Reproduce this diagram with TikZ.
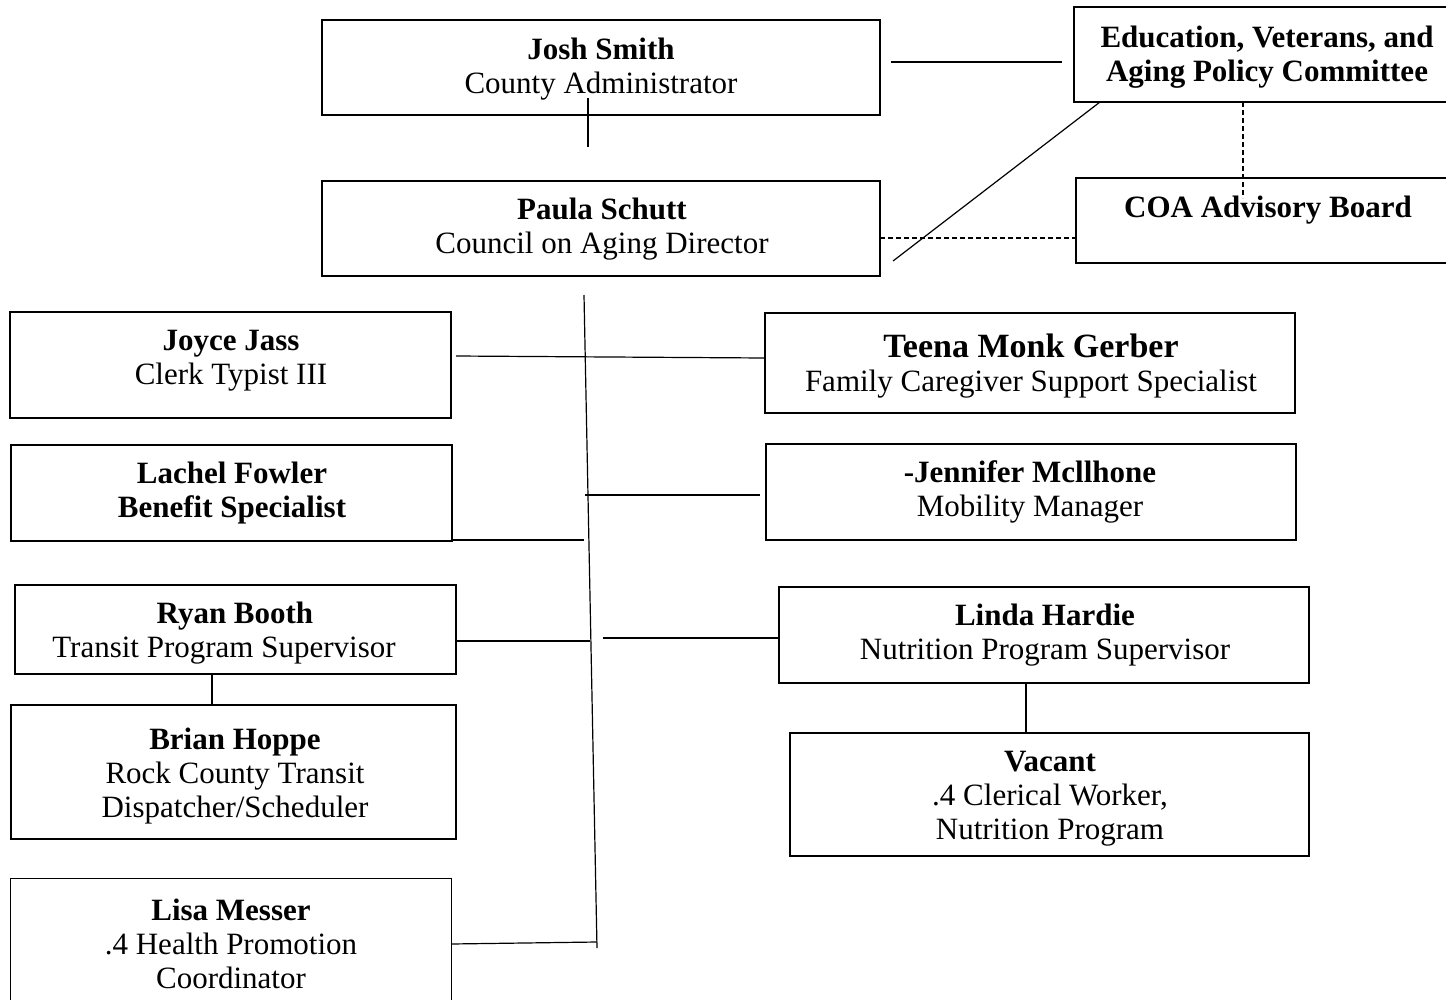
\documentclass[tikz,border=0pt]{standalone}
\usepackage{fontspec}
\setmainfont{Liberation Serif}
\begin{document}
\begin{tikzpicture}[x=1pt,y=-1pt,
  box/.style={draw=black, line width=1.7pt, rectangle, inner sep=0pt},
  thinbox/.style={draw=black, line width=1.0pt, rectangle, inner sep=0pt},
  txt/.style={align=center, inner sep=0pt, font=\fontsize{31}{34}\selectfont},
  conn/.style={draw=black, line width=1.2pt},
  dconn/.style={draw=black, line width=1.2pt, dash pattern=on 5pt off 3pt}]
\useasboundingbox (0,0) rectangle (1446,999);
\fill[white] (0,0) rectangle (1446,999);

% boxes
\node[box, minimum width=558pt, minimum height=95pt] (josh) at (601,67.5) {};
\node[box, minimum width=558pt, minimum height=95pt] (paula) at (601,228.5) {};
\node[box, minimum width=386pt, minimum height=95pt] (edu) at (1267,54.5) {};
\node[box, minimum width=384pt, minimum height=85pt] (coa) at (1268,220.5) {};
\node[box, minimum width=441pt, minimum height=106pt] (joyce) at (230.5,365) {};
\node[box, minimum width=530pt, minimum height=100pt] (teena) at (1030,363) {};
\node[box, minimum width=441pt, minimum height=96pt] (lachel) at (231.5,493) {};
\node[box, minimum width=530pt, minimum height=96pt] (jenn) at (1031,492) {};
\node[box, minimum width=441pt, minimum height=89pt] (ryan) at (235.5,629.5) {};
\node[box, minimum width=530pt, minimum height=96pt] (linda) at (1044,635) {};
\node[box, minimum width=445pt, minimum height=134pt] (brian) at (233.5,772) {};
\node[box, minimum width=519pt, minimum height=123pt] (vacant) at (1049.5,794.5) {};
\node[thinbox, minimum width=441pt, minimum height=132pt] (lisa) at (230.5,944) {};

% texts
\node[txt] (joshT) at (601,69) {\textbf{Josh Smith}\\County Administrator};
\node[txt] (paulaT) at (602,229) {\textbf{Paula Schutt}\\Council on Aging Director};
\node[txt] (eduT) at (1267,57) {\textbf{Education, Veterans, and}\\\textbf{Aging Policy Committee}};
\node[txt] (coaT) at (1268,210) {\textbf{COA Advisory Board}};
\node[txt] (joyceT) at (231,361) {\textbf{Joyce Jass}\\Clerk Typist III};
\node[txt] (teenaT) at (1031,366) {{\fontsize{34}{36}\selectfont\textbf{Teena Monk Gerber}}\\Family Caregiver Support Specialist};
\node[txt] (lachelT) at (232,493) {\textbf{Lachel Fowler}\\\textbf{Benefit Specialist}};
\node[txt] (jennT) at (1030,492) {\textbf{-Jennifer Mcllhone}\\Mobility Manager};
\node[txt] (ryanT) at (224,633.5) {\hspace*{22pt}\textbf{Ryan Booth}\\Transit Program Supervisor};
\node[txt] (lindaT) at (1045,635) {\textbf{Linda Hardie}\\Nutrition Program Supervisor};
\node[txt] (brianT) at (235,776) {\textbf{Brian Hoppe}\\Rock County Transit\\Dispatcher/Scheduler};
\node[txt] (vacantT) at (1050,799) {\textbf{Vacant}\\.4 Clerical Worker,\\Nutrition Program};
\node[txt] (lisaT) at (231,944) {\textbf{Lisa Messer}\\.4 Health Promotion\\Coordinator};

% connector end points
\coordinate (jp1) at (588,98);
\coordinate (jp2) at (588,147);
\coordinate (je1) at (891,62);
\coordinate (je2) at (1062,62);
\coordinate (dg1) at (893,261);
\coordinate (dg2) at (1100,102);
\coordinate (pc1) at (880,238);
\coordinate (pc2) at (1076,238);
\coordinate (ec1) at (1243,102);
\coordinate (ec2) at (1243,198);
\coordinate (vtop) at (584,295);
\coordinate (vbot) at (597,948);
\coordinate (jy1) at (456,356);
\coordinate (jy2) at (765,358);
\coordinate (jn1) at (585,495);
\coordinate (jn2) at (760,495);
\coordinate (lc1) at (452,540);
\coordinate (lc2) at (584,540);
\coordinate (ry1) at (456,641);
\coordinate (ry2) at (590,641);
\coordinate (ld1) at (603,638);
\coordinate (ld2) at (779,638);
\coordinate (rb1) at (212,674);
\coordinate (rb2) at (212,705);
\coordinate (lv1) at (1026,683);
\coordinate (lv2) at (1026,733);
\coordinate (ls1) at (451,944);
\coordinate (ls2) at (597,942);

% connectors
\draw[conn] (jp1) -- (jp2);
\draw[conn] (je1) -- (je2);
\draw[conn] (dg1) -- (dg2);
\draw[dconn] (pc1) -- (pc2);
\draw[dconn] (ec1) -- (ec2);
\draw[conn] (vtop) -- (vbot);
\draw[conn] (jy1) -- (jy2);
\draw[conn] (jn1) -- (jn2);
\draw[conn] (lc1) -- (lc2);
\draw[conn] (ry1) -- (ry2);
\draw[conn] (ld1) -- (ld2);
\draw[conn] (rb1) -- (rb2);
\draw[conn] (lv1) -- (lv2);
\draw[conn] (ls1) -- (ls2);
\end{tikzpicture}
\end{document}
